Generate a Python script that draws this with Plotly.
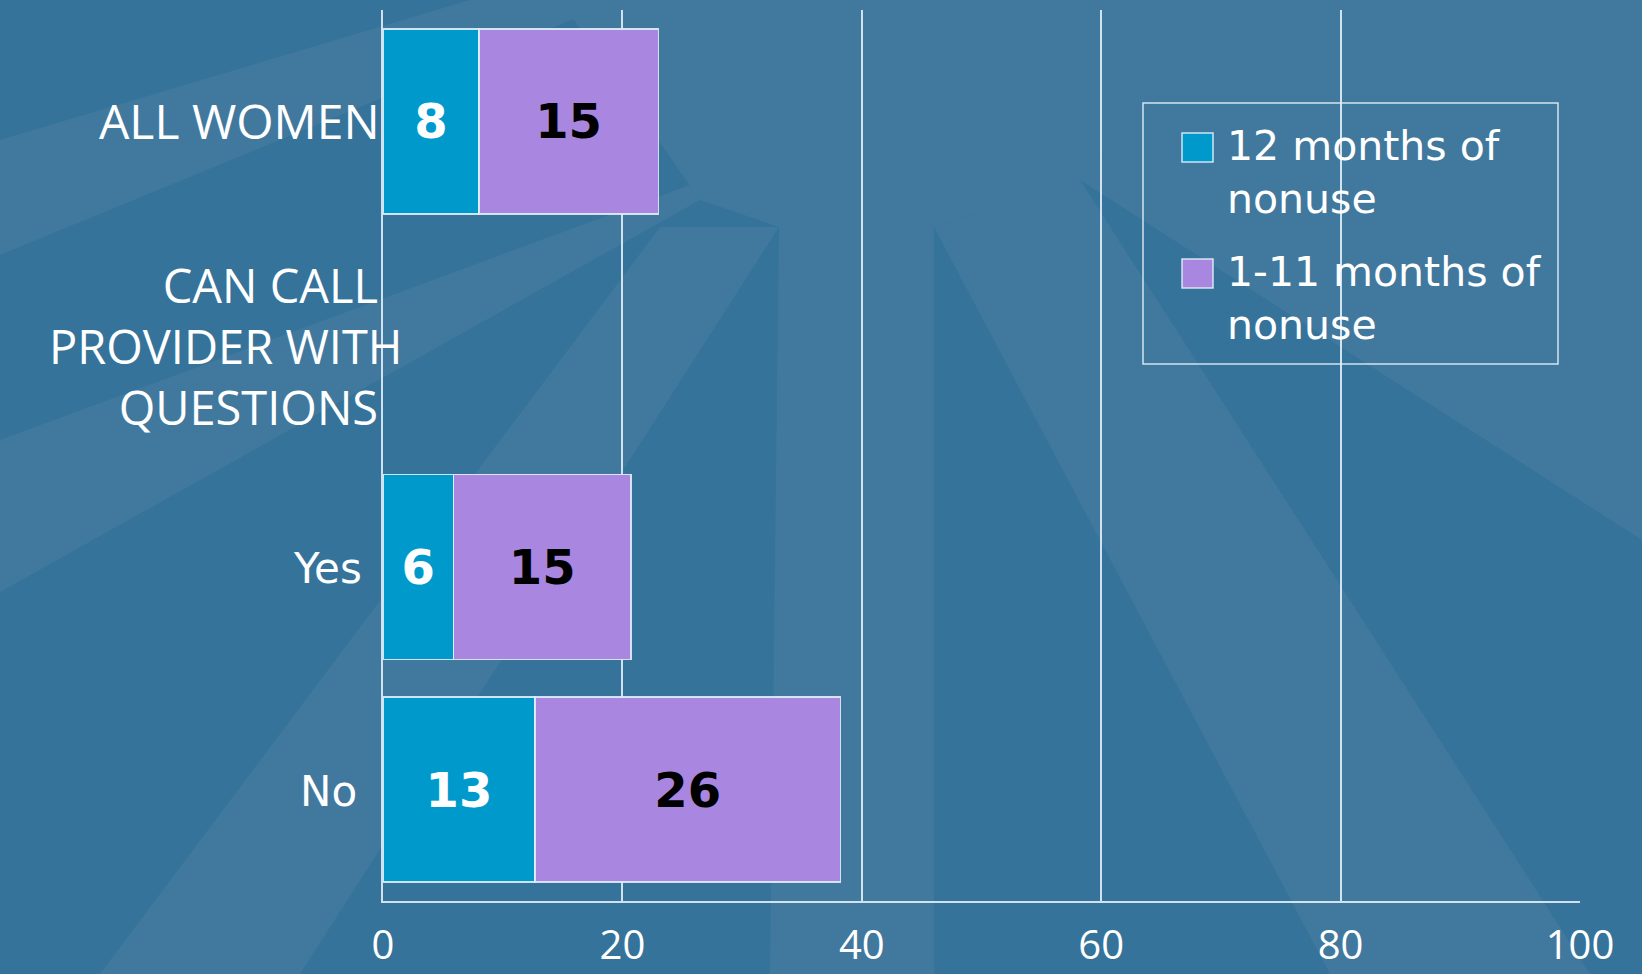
import plotly.graph_objects as go

# ---------------- data ----------------
categories = ["ALL WOMEN", "CAN CALL PROVIDER WITH QUESTIONS", "Yes", "No"]
series_names = ["12 months of nonuse", "1-11 months of nonuse"]
months12 = [8.0, None, 5.9, 12.7]
months1_11 = [15.0, None, 14.8, 25.5]
labels12 = ["8", "", "6", "13"]
labels1_11 = ["15", "", "15", "26"]
x_ticks = [0, 20, 40, 60, 80, 100]
heading_lines = ["CAN CALL", "PROVIDER WITH", "QUESTIONS"]
legend_lines = [["12 months of", "nonuse"], ["1-11 months of", "nonuse"]]

# ---------------- style ----------------
W_FIG, H_FIG = 1642, 974
L, R, T, B = 383, 62, 10, 73
PW, PH = W_FIG - L - R, H_FIG - T - B
BLUE = "#0099CC"
PURPLE = "#A987E0"
BG = "#35739A"
LIGHT = "#41799E"
EDGE = "rgba(225,238,248,0.9)"
NB = "\u00a0"


def pp(px, py):
    return ((px - L) / PW, 1 - (py - T) / PH)


def poly(points, color):
    pts = [pp(x, y) for x, y in points]
    path = "M " + " L ".join(f"{x:.5f},{y:.5f}" for x, y in pts) + " Z"
    return dict(type="path", xref="paper", yref="paper", path=path,
                fillcolor=color, line=dict(width=0), layer="below")


fig = go.Figure()

fig.add_trace(go.Bar(
    y=categories, x=months12, orientation="h", name=series_names[0],
    marker=dict(color=BLUE, line=dict(color=EDGE, width=1.5)),
    width=0.83, text=labels12, textposition="inside", insidetextanchor="middle",
    textangle=0, constraintext="none",
    textfont=dict(family="DejaVu Sans", size=48, color="white", weight="bold"),
    showlegend=False, hoverinfo="skip",
))
fig.add_trace(go.Bar(
    y=categories, x=months1_11, orientation="h", name=series_names[1],
    marker=dict(color=PURPLE, line=dict(color=EDGE, width=1.5)),
    width=0.83, text=labels1_11, textposition="inside", insidetextanchor="middle",
    textangle=0, constraintext="none",
    textfont=dict(family="DejaVu Sans", size=48, color="black", weight="bold"),
    showlegend=False, hoverinfo="skip",
))

# background rays (decorative)
shapes = [
    poly([(0, 140), (0, 255), (620, 0), (470, 0)], LIGHT),
    poly([(0, 440), (0, 592), (700, 200), (690, 185)], LIGHT),
    poly([(100, 974), (300, 974), (779, 227), (660, 227)], LIGHT),
    poly([(560, 0), (1250, 0), (1080, 180), (934, 227), (779, 227), (700, 200)], LIGHT),
    poly([(779, 227), (934, 227), (934, 974), (770, 974)], LIGHT),
    poly([(934, 227), (1080, 180), (1590, 974), (1330, 974)], LIGHT),
    poly([(1250, 0), (1642, 0), (1642, 540), (1080, 180)], LIGHT),
]

# manual legend (box + swatches)
shapes.append(dict(type="rect", xref="paper", yref="paper",
                   x0=pp(1143, 0)[0], x1=pp(1558, 0)[0],
                   y0=pp(0, 364)[1], y1=pp(0, 103)[1],
                   line=dict(color=EDGE, width=1.5), fillcolor="rgba(0,0,0,0)",
                   layer="above"))
swatch_tops = [133, 259]
for col, top in zip([BLUE, PURPLE], swatch_tops):
    shapes.append(dict(type="rect", xref="paper", yref="paper",
                       x0=pp(1182, 0)[0], x1=pp(1213, 0)[0],
                       y0=pp(0, top + 29)[1], y1=pp(0, top)[1],
                       fillcolor=col, line=dict(color=EDGE, width=1.5),
                       layer="above"))

annotations = []
# legend text
legend_mid = [172, 298]
for lines, cy in zip(legend_lines, legend_mid):
    annotations.append(dict(
        text="<br>".join(lines), xref="paper", yref="paper",
        x=pp(1225, 0)[0], y=pp(0, cy)[1], align="left",
        xanchor="left", yanchor="middle", showarrow=False,
        font=dict(family="DejaVu Sans", size=41, color="white")))

# category labels
annotations.append(dict(text=categories[0], xref="paper", yref="y", x=0, y=categories[0],
                        xanchor="right", yanchor="middle", xshift=-1, yshift=1, showarrow=False,
                        font=dict(family="Open Sans", size=48, color="white")))
heading_txt = "<br>".join([heading_lines[0] + NB * 2, heading_lines[1],
                           heading_lines[2] + NB * 2])
annotations.append(dict(text=heading_txt, xref="paper", yref="y", x=0, y=categories[1],
                        xanchor="right", yanchor="middle", align="right",
                        xshift=22, yshift=-2, showarrow=False,
                        font=dict(family="Open Sans", size=47, color="white")))
for cat, xs in zip(categories[2:], [-19, -24]):
    annotations.append(dict(text=cat, xref="paper", yref="y", x=0, y=cat,
                            xanchor="right", yanchor="middle", xshift=xs, yshift=-2,
                            showarrow=False,
                            font=dict(family="DejaVu Sans", size=42, color="white")))

fig.update_layout(
    width=W_FIG, height=H_FIG,
    margin=dict(l=L, r=R, t=T, b=B, pad=0),
    paper_bgcolor=BG, plot_bgcolor="rgba(0,0,0,0)",
    barmode="stack", showlegend=False,
    shapes=shapes, annotations=annotations,
    xaxis=dict(range=[0, 100], tickvals=x_ticks, ticktext=[str(v) for v in x_ticks],
               automargin=False,
               showgrid=True, gridcolor=EDGE, gridwidth=1.5,
               showline=True, linecolor=EDGE, linewidth=2, zeroline=False,
               ticks="outside", ticklen=8, tickcolor="rgba(0,0,0,0)",
               tickfont=dict(family="Open Sans", size=40, color="white")),
    yaxis=dict(categoryorder="array", categoryarray=categories, automargin=False,
               range=[3.5, -0.5], showticklabels=False, showgrid=False,
               showline=True, linecolor=EDGE, linewidth=1.5, zeroline=False),
)

fig.write_html("out.html")
